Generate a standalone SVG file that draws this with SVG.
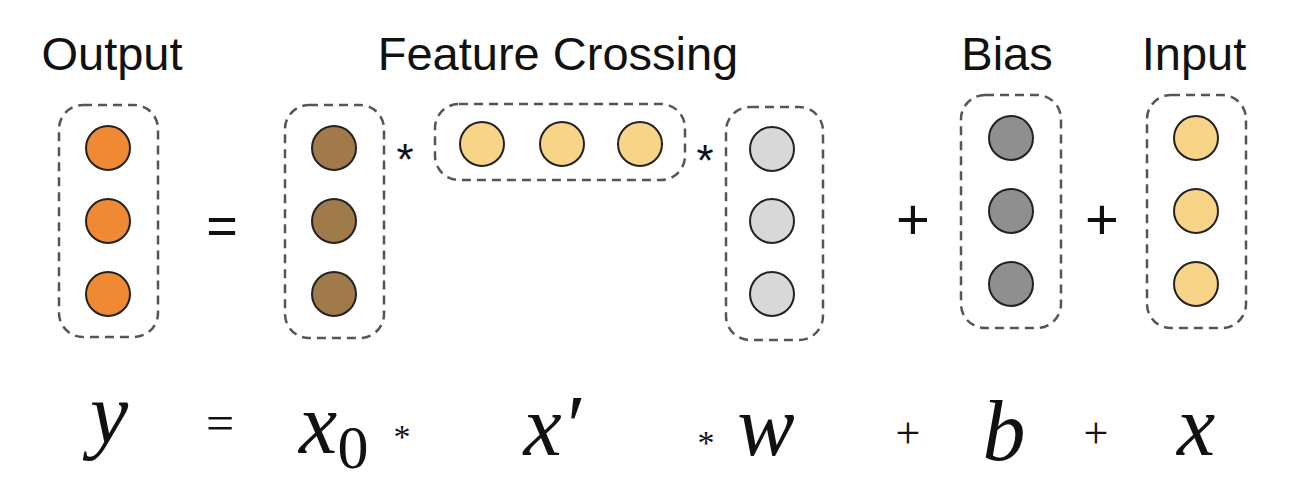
<svg xmlns="http://www.w3.org/2000/svg" width="1300" height="494" viewBox="0 0 1300 494">
<style>
.box{fill:none;stroke:#555;stroke-width:2.5;stroke-dasharray:9 6}
.n{stroke:#222;stroke-width:2}
.or{fill:#EF8934}
.br{fill:#A07A4A}
.ye{fill:#F8D488}
.lg{fill:#D8D8D8}
.dg{fill:#8F8F8F}
.title{font-family:"Liberation Sans",Arial,sans-serif;font-size:47px;fill:#111;text-anchor:middle}
.op{font-family:"Liberation Sans",Arial,sans-serif;fill:#111;text-anchor:middle}
.m{font-family:"Liberation Serif","DejaVu Serif",serif;font-style:italic;font-size:86px;fill:#111;text-anchor:middle}
.mo{font-family:"Liberation Serif","DejaVu Serif",serif;fill:#111;text-anchor:middle}
</style>
<rect width="1300" height="494" fill="#fff"/>
<g id="titles">
<text class="title" x="112" y="70">Output</text>
<text class="title" x="558" y="70">Feature Crossing</text>
<text class="title" x="1007" y="70">Bias</text>
<text class="title" x="1194" y="70">Input</text>
</g>
<g id="output">
<rect class="box" x="59" y="105" width="99" height="232" rx="24"/>
<circle class="n or" cx="108" cy="148" r="22"/>
<circle class="n or" cx="108" cy="221" r="22"/>
<circle class="n or" cx="108" cy="294" r="22"/>
</g>
<g id="x0">
<rect class="box" x="285" y="105" width="99" height="233" rx="24"/>
<circle class="n br" cx="334" cy="148" r="22"/>
<circle class="n br" cx="334" cy="221" r="22"/>
<circle class="n br" cx="334" cy="294" r="22"/>
</g>
<g id="xprime">
<rect class="box" x="435" y="104" width="250" height="76" rx="24"/>
<circle class="n ye" cx="482" cy="144" r="22"/>
<circle class="n ye" cx="562" cy="144" r="22"/>
<circle class="n ye" cx="640" cy="144" r="22"/>
</g>
<g id="w">
<rect class="box" x="726" y="107" width="97" height="233" rx="24"/>
<circle class="n lg" cx="772" cy="149" r="22"/>
<circle class="n lg" cx="772" cy="221" r="22"/>
<circle class="n lg" cx="772" cy="294" r="22"/>
</g>
<g id="bias">
<rect class="box" x="961" y="95" width="100" height="233" rx="24"/>
<circle class="n dg" cx="1011" cy="138" r="22"/>
<circle class="n dg" cx="1011" cy="211" r="22"/>
<circle class="n dg" cx="1011" cy="284" r="22"/>
</g>
<g id="input">
<rect class="box" x="1147" y="95" width="99" height="233" rx="24"/>
<circle class="n ye" cx="1196" cy="138" r="22"/>
<circle class="n ye" cx="1196" cy="211" r="22"/>
<circle class="n ye" cx="1196" cy="284" r="22"/>
</g>
<g id="operators">
<text class="op" x="222" y="244" font-size="54">=</text>
<text class="op" x="405" y="175" font-size="44">*</text>
<text class="op" x="705" y="176" font-size="44">*</text>
<text class="op" x="913" y="239" font-size="58">+</text>
<text class="op" x="1102" y="239" font-size="58">+</text>
</g>
<g id="connectors"></g>
<g id="equation">
<text class="m" x="109" y="442">y</text>
<text class="mo" x="220" y="440" font-size="50">=</text>
<text class="m" x="318" y="453">x</text>
<text class="mo" x="353" y="468" font-size="62">0</text>
<text class="mo" x="402" y="448" font-size="34">*</text>
<text class="m" x="552" y="455">x′</text>
<text class="mo" x="706" y="454" font-size="34">*</text>
<text class="m" x="766" y="455">w</text>
<text class="mo" x="908" y="448" font-size="44">+</text>
<text class="m" x="1004" y="460">b</text>
<text class="mo" x="1096" y="448" font-size="44">+</text>
<text class="m" x="1196" y="455">x</text>
</g>
</svg>
